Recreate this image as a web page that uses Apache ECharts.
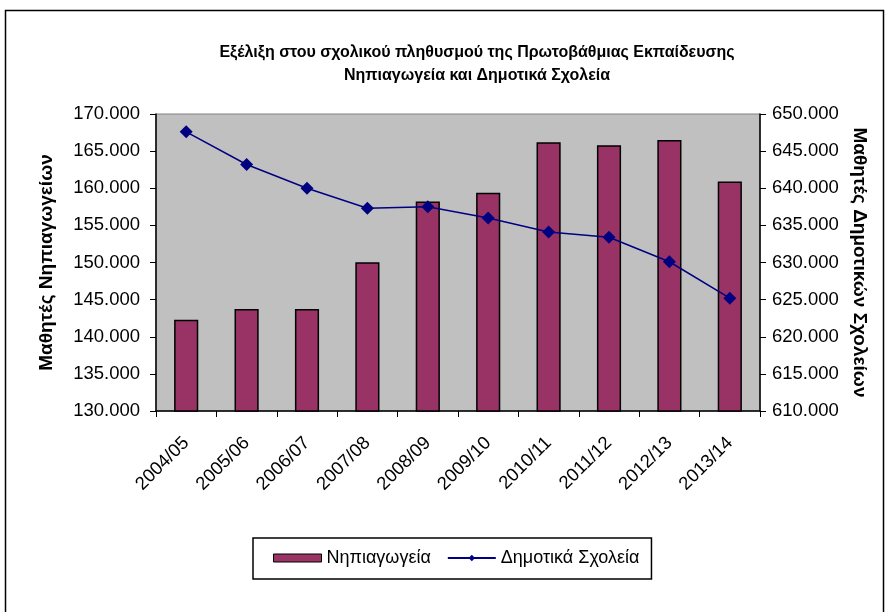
<!DOCTYPE html>
<html>
<head>
    <meta charset="utf-8">
    <title>Σχολικός πληθυσμός</title>
    <script src="https://cdn.jsdelivr.net/npm/echarts@6/dist/echarts.min.js"></script>
    <style>
        html, body { margin: 0; padding: 0; background: #fff; }
        #main { width: 889px; height: 612px; }
    </style>
</head>
<body>
<div id="main"></div>
<script type="text/javascript">
    // σχολικά έτη
    var years = ['2004/05', '2005/06', '2006/07', '2007/08', '2008/09',
                 '2009/10', '2010/11', '2011/12', '2012/13', '2013/14'];
    // μαθητές νηπιαγωγείων (αριστερός άξονας)
    var nipiagogeia = [142300, 143750, 143750, 150050, 158200,
                       159400, 166200, 165800, 166500, 160900];
    // μαθητές δημοτικών σχολείων (δεξιός άξονας)
    var dimotika = [647600, 643200, 640000, 637300, 637500,
                    636000, 634100, 633400, 630100, 625200];

    function fmt(v) {
        return String(v).replace(/\B(?=(\d{3})+(?!\d))/g, '.');
    }

    var font = 'Liberation Sans, Arial, sans-serif';
    var myChart = echarts.init(document.getElementById('main'));

    var option = {
        animation: false,
        backgroundColor: '#fff',
        textStyle: { fontFamily: font },
        graphic: [{
            type: 'rect',
            shape: { x: 5.5, y: 10.5, width: 878, height: 620 },
            style: { fill: 'none', stroke: '#000', lineWidth: 1.5 },
            silent: true
        }],
        title: {
            text: 'Εξέλιξη στου σχολικού πληθυσμού της Πρωτοβάθμιας Εκπαίδευσης\nΝηπιαγωγεία και Δημοτικά Σχολεία',
            left: 472,
            top: 36,
            textAlign: 'center',
            textStyle: {
                fontFamily: font,
                fontSize: 16,
                fontWeight: 'bold',
                color: '#000',
                lineHeight: 23
            }
        },
        legend: {
            left: 253,
            top: 538,
            padding: [11, 12, 12, 20],
            itemGap: 16,
            borderColor: '#000',
            borderWidth: 1.5,
            textStyle: { fontSize: 18, color: '#000', fontFamily: font },
            data: [
                { name: 'Νηπιαγωγεία', icon: 'rect', itemStyle: { borderColor: '#000', borderWidth: 1 } },
                { name: 'Δημοτικά Σχολεία' }
            ],
            itemWidth: 48,
            itemHeight: 8
        },
        grid: {
            left: 156,
            right: 129,
            top: 114,
            bottom: 201,
            show: true,
            backgroundColor: '#c0c0c0',
            borderColor: '#808080',
            borderWidth: 1
        },
        xAxis: {
            type: 'category',
            data: years,
            boundaryGap: true,
            axisLine: { lineStyle: { color: '#000', width: 1.5 } },
            axisTick: { show: true, length: 6, lineStyle: { color: '#000' } },
            axisLabel: {
                rotate: 45,
                fontSize: 18.5,
                color: '#000',
                margin: 29,
                fontFamily: font
            }
        },
        yAxis: [{
            type: 'value',
            min: 130000,
            max: 170000,
            interval: 5000,
            name: 'Μαθητές Νηπιαγωγείων',
            nameLocation: 'middle',
            nameGap: 100,
            nameRotate: 90,
            nameTextStyle: { fontSize: 19, fontWeight: 'bold', color: '#000', fontFamily: font },
            axisLine: { show: true, lineStyle: { color: '#000', width: 1.5 } },
            axisTick: { show: true, length: 6, lineStyle: { color: '#000' } },
            splitLine: { show: false },
            axisLabel: {
                fontSize: 18.5,
                color: '#000',
                margin: 16,
                formatter: fmt
            }
        }, {
            type: 'value',
            min: 610000,
            max: 650000,
            interval: 5000,
            name: 'Μαθητές Δημοτικών Σχολείων',
            nameLocation: 'middle',
            nameGap: 89,
            nameRotate: -90,
            nameTextStyle: { fontSize: 19, fontWeight: 'bold', color: '#000', fontFamily: font },
            axisLine: { show: true, lineStyle: { color: '#000', width: 1.5 } },
            axisTick: { show: true, length: 6, lineStyle: { color: '#000' } },
            splitLine: { show: false },
            axisLabel: {
                fontSize: 18.5,
                color: '#000',
                margin: 12,
                formatter: fmt
            }
        }],
        series: [{
            name: 'Νηπιαγωγεία',
            type: 'bar',
            yAxisIndex: 0,
            barWidth: '40%',
            data: nipiagogeia,
            itemStyle: { color: '#993366', borderColor: '#000', borderWidth: 1.5 }
        }, {
            name: 'Δημοτικά Σχολεία',
            type: 'line',
            yAxisIndex: 1,
            data: dimotika,
            symbol: 'diamond',
            symbolSize: 13,
            lineStyle: { color: '#000080', width: 1.5 },
            itemStyle: { color: '#000080' }
        }]
    };
    myChart.setOption(option);
</script>
</body>
</html>
